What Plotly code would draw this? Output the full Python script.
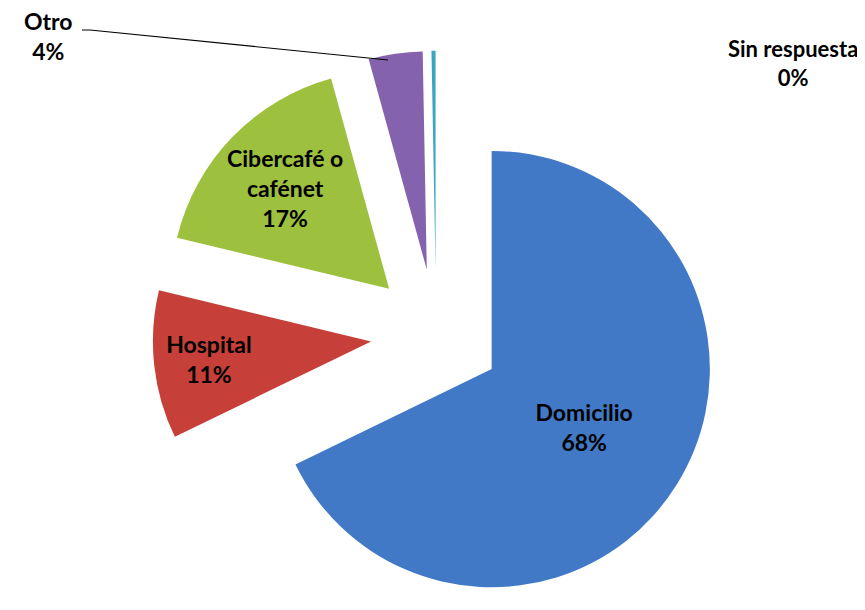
import plotly.graph_objects as go

labels = ["Domicilio", "Hospital", "Cibercafé o<br>cafénet", "Otro", "Sin respuesta"]
values = [68, 11, 17, 4, 0.3]
colors = ["#4179c6", "#c63f38", "#9dc03f", "#8462ae", "#3aa6c2"]
text_pos = ["inside", "inside", "inside", "none", "none"]

total = sum(values)
pcts = [v / total for v in values]

font_fam = "Lato, Open Sans, sans-serif"

fig = go.Figure(go.Pie(
    labels=labels,
    values=values,
    sort=False,
    direction="clockwise",
    rotation=0,
    pull=[0.3] * len(values),
    marker=dict(colors=colors, line=dict(width=0)),
    texttemplate="<b>%{label}<br>%{percent:.0%}</b>",
    textposition=text_pos,
    insidetextorientation="horizontal",
    textfont=dict(family=font_fam, size=23, color="black"),
    showlegend=False,
    hoverinfo="label+percent",
    domain=dict(x=[0.12, 0.87], y=[0.0, 0.93]),
))

ann_font = dict(family=font_fam, size=23, color="black")
fig.add_annotation(x=40 / 865, y=1 - 28 / 610, xref="paper", yref="paper",
                   xanchor="center", yanchor="middle",
                   text=f"<b>{labels[3]}<br>{pcts[3]:.0%}</b>", showarrow=False,
                   font=ann_font, align="center")
fig.add_annotation(x=785 / 865, y=1 - 55 / 610, xref="paper", yref="paper",
                   xanchor="center", yanchor="middle",
                   text=f"<b>{labels[4]}<br>{pcts[4]:.0%}</b>", showarrow=False,
                   font=dict(family=font_fam, size=22, color="black"), align="center")
fig.add_shape(type="path", xref="paper", yref="paper",
              path=f"M {74/865} {1-22/610} L {82/865} {1-22/610} L {380/865} {1-52/610}",
              line=dict(color="black", width=1.2))

fig.update_layout(
    width=865, height=610,
    margin=dict(l=0, r=0, t=0, b=0),
    paper_bgcolor="white", plot_bgcolor="white",
)

fig.write_html("out.html")
